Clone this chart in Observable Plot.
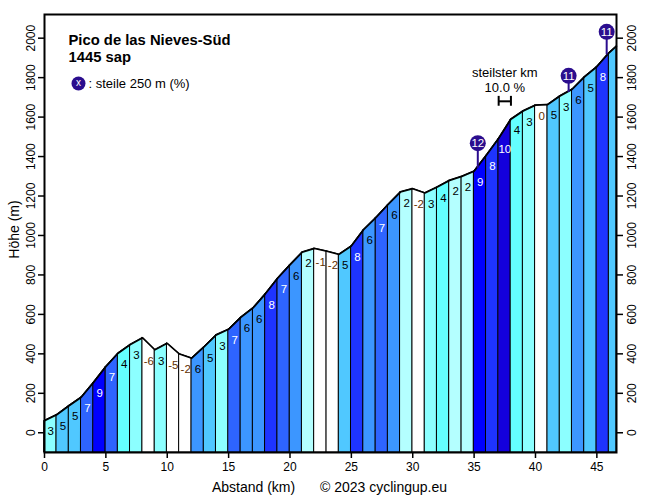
<!DOCTYPE html>
<html>
<head>
<meta charset="utf-8">
<script src="https://cdn.jsdelivr.net/npm/d3@7"></script>
<script src="https://cdn.jsdelivr.net/npm/@observablehq/plot@0.6"></script>
<style>
  body { margin: 0; background: #fff; }
  svg { display: block; }
</style>
</head>
<body>
<div id="chart"></div>
<script>
// distance (km) of profile points
const km = [0,1,2,3,4,5,6,7,8,9,10,11,12,13,14,15,16,17,18,19,20,21,22,23,24,25,26,27,28,29,30,31,32,33,34,35,36,37,38,39,40,41,42,43,44,45,46,46.6];
// elevation (m) at those points
const elev = [61,91,137,180,255,335,403,447,481,420,453,399,378,435,496,524,585,633,704,783,851,915,934,920,904,946,1029,1090,1157,1220,1237,1215,1245,1279,1299,1325,1406,1491,1589,1631,1660,1663,1707,1741,1804,1855,1926,1959];
// gradient (%) of each km segment (last one is the partial segment, unlabeled)
const grades = [3,5,5,7,9,7,4,3,-6,3,-5,-2,6,5,3,7,6,6,8,7,6,2,-1,-2,5,8,6,7,6,2,-2,3,4,2,2,9,8,10,4,3,0,5,3,6,5,8,5];
const labeled = grades.map((g, i) => i < grades.length - 1);
// steepest 250 m markers
const markerKm = [35.3, 42.7, 45.8];
const markerBase = [1340, 1725, 1915];
const markerTop = [1468, 1809, 2032];
const markerText = ["12", "11", "11"];
// steepest km
const steepKm = [37, 38];
const steepElev = 1680;
const steepLabel = ["steilster km", "10.0 %"];
const xTicks = [0,5,10,15,20,25,30,35,40,45];
const yTicks = [0,200,400,600,800,1000,1200,1400,1600,1800,2000];

const gradeColors = {2:"#b4ffff",3:"#8cffff",4:"#64ffff",5:"#50c8ff",6:"#3c96ff",7:"#2e64ff",8:"#1e34ff",9:"#0000ff",10:"#1400dc",11:"#1a00b0",12:"#200090"};
function fillFor(g) { if (g <= 0) return "#ffffff"; if (g < 2) return "#d8ffff"; return gradeColors[Math.min(g, 12)]; }
function labelColor(g) { if (g <= 0) return "#603000"; return g >= 7 ? "#ffffff" : "#000000"; }
const indigo = "#2b0d8e";

const segPts = [];
const segs = [];
for (let i = 0; i < grades.length; i++) {
  segPts.push({seg: i, x: km[i], y: elev[i], g: grades[i]});
  segPts.push({seg: i, x: km[i+1], y: elev[i+1], g: grades[i]});
  segs.push({x: (km[i] + km[i+1]) / 2, y: Math.min(elev[i], elev[i+1]), g: grades[i], show: labeled[i]});
}
const profile = km.map((x, i) => ({x, y: elev[i]}));
const markers = markerKm.map((x, i) => ({x, base: markerBase[i], top: markerTop[i], t: markerText[i]}));

const font = "Liberation Sans, Arial, sans-serif";
const C = {textAnchor: "middle", lineAnchor: "middle", fill: "black"};

const chart = Plot.plot({
  width: 656,
  height: 498,
  marginLeft: 44,
  marginRight: 40,
  marginTop: 14,
  marginBottom: 46,
  style: {fontFamily: font, fontSize: "12px", background: "#fff"},
  x: {domain: [0, 46.6], label: null},
  y: {domain: [-100, 2120], label: null},
  color: {type: "identity"},
  marks: [
    Plot.areaY(segPts, {x: "x", y1: -100, y2: "y", z: "seg", fill: d => fillFor(d.g), stroke: "black", strokeWidth: 1}),
    Plot.line(profile, {x: "x", y: "y", stroke: "black", strokeWidth: 1.6}),
    Plot.text(segs.filter(d => d.show), {x: "x", y: "y", dy: 11, text: d => String(d.g), fill: d => labelColor(d.g), fontSize: 11.5}),
    // steepest 250 m markers
    Plot.ruleX(markers, {x: "x", y1: "base", y2: "top", stroke: indigo, strokeWidth: 2}),
    Plot.dot(markers, {x: "x", y: "top", r: 8, fill: indigo}),
    Plot.text(markers, {x: "x", y: "top", text: "t", fill: "white", fontSize: 11.5}),
    // steepest km bracket
    Plot.ruleY([steepElev], {x1: steepKm[0], x2: steepKm[1], stroke: "black", strokeWidth: 2}),
    Plot.ruleX(steepKm, {x: d => d, y1: steepElev - 25, y2: steepElev + 25, stroke: "black", strokeWidth: 2}),
    Plot.text([steepLabel[0]], {x: (steepKm[0] + steepKm[1]) / 2, y: steepElev, dy: -28, text: d => d, fontSize: 13, fill: "black"}),
    Plot.text([steepLabel[1]], {x: (steepKm[0] + steepKm[1]) / 2, y: steepElev, dy: -13, text: d => d, fontSize: 13, fill: "black"}),
    // title
    Plot.text(["Pico de las Nieves-Süd"], {...C, frameAnchor: "top-left", dx: 24, dy: 26, text: d => d, textAnchor: "start", fontWeight: "bold", fontSize: 14.8}),
    Plot.text(["1445 sap"], {...C, frameAnchor: "top-left", dx: 24, dy: 43, text: d => d, textAnchor: "start", fontWeight: "bold", fontSize: 14.8}),
    // legend
    Plot.dot([0], {frameAnchor: "top-left", dx: 34, dy: 69, r: 7, fill: indigo}),
    Plot.text(["x"], {...C, frameAnchor: "top-left", dx: 34, dy: 68, text: d => d, fill: "white", fontSize: 10}),
    Plot.text([": steile 250 m (%)"], {...C, frameAnchor: "top-left", dx: 44, dy: 69, text: d => d, textAnchor: "start", fontSize: 13}),
    // axes
    Plot.axisX({ticks: xTicks, tickSize: 6, tickPadding: 4, fontSize: 12, label: null, strokeWidth: 1.5}),
    Plot.axisY({anchor: "left", ticks: yTicks, tickSize: 6, tickFormat: () => "", label: null, strokeWidth: 1.5}),
    Plot.axisY({anchor: "right", ticks: yTicks, tickSize: 6, tickFormat: () => "", label: null, strokeWidth: 1.5}),
    Plot.text(yTicks, {...C, y: d => d, text: d => String(d), frameAnchor: "left", dx: -13, rotate: -90, fontSize: 12}),
    Plot.text(yTicks, {...C, y: d => d, text: d => String(d), frameAnchor: "right", dx: 16, rotate: -90, fontSize: 12}),
    Plot.text(["Höhe (m)"], {...C, frameAnchor: "left", dx: -30, dy: -4, rotate: -90, text: d => d, fontSize: 14}),
    Plot.text(["Abstand (km)"], {...C, frameAnchor: "bottom-left", dx: 209, dy: 35, text: d => d, fontSize: 14}),
    Plot.text(["© 2023 cyclingup.eu"], {...C, frameAnchor: "bottom-left", dx: 339, dy: 35, text: d => d, fontSize: 14}),
    Plot.frame({stroke: "black", strokeWidth: 2})
  ]
});
document.getElementById("chart").appendChild(chart);
</script>
</body>
</html>
